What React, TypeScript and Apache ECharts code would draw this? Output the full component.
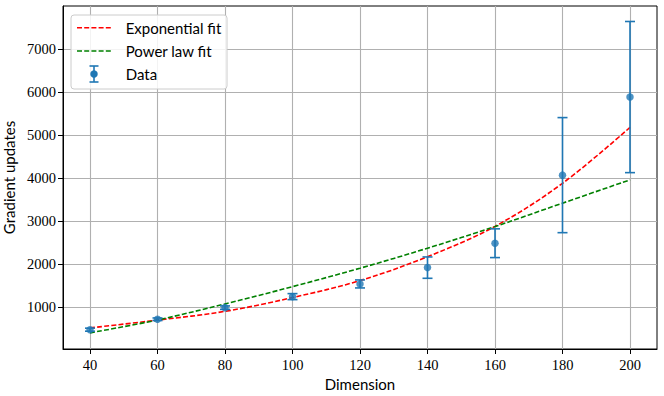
import React, { useEffect, useRef } from "react";
import * as echarts from "echarts";

const dims = [40, 60, 80, 100, 120, 140, 160, 180, 200];
const means = [479, 721, 991, 1247, 1542, 1921, 2488, 4070, 5884];
const errs = [35, 30, 40, 70, 93, 248, 334, 1337, 1756];
const expFit = [520, 700, 905, 1225, 1620, 2175, 2880, 3880, 5180];
const powFit = [405, 705, 1077, 1479, 1907, 2372, 2875, 3419, 3960];
const xTicks = [40, 60, 80, 100, 120, 140, 160, 180, 200];
const yTicks = [1000, 2000, 3000, 4000, 5000, 6000, 7000];

const BLUE = "#1f77b4";
const SERIF = "'Liberation Serif', 'DejaVu Serif', serif";
const SANS = "Lato, 'Noto Sans', sans-serif";

export default function App() {
  const ref = useRef<HTMLDivElement>(null);
  useEffect(() => {
    if (!ref.current) return;
    const chart = echarts.init(ref.current, null, { renderer: "svg" });
    const errData = dims.map((d, i) => [d, means[i] - errs[i], means[i] + errs[i]]);
    const dash = [5, 2.2];
    const option: any = {
      animation: false,
      backgroundColor: "#ffffff",
      grid: {
        left: 63, right: 7, top: 6, bottom: 47, containLabel: false, outerBoundsMode: "none",
        show: true, borderColor: "#000", borderWidth: 1, backgroundColor: "transparent",
      },
      xAxis: {
        type: "value",
        min: 32,
        max: 208,
        name: "Dimension",
        nameLocation: "middle",
        nameGap: 22,
        nameTextStyle: { fontFamily: SANS, fontSize: 15, color: "#000" },
        axisLine: { show: true, onZero: false, lineStyle: { color: "#000", width: 1 } },
        axisTick: { show: true, inside: false, length: 5, customValues: xTicks, lineStyle: { color: "#000", width: 1 } },
        axisLabel: { customValues: xTicks, margin: 8, fontFamily: SERIF, fontSize: 14.5, color: "#000", formatter: (v: number) => String(v) },
        splitLine: { show: true, lineStyle: { color: "#b0b0b0", width: 1.1 } },
      },
      yAxis: {
        type: "value",
        min: 30,
        max: 8000,
        name: "Gradient updates",
        nameLocation: "middle",
        nameGap: 33,
        nameTextStyle: { fontFamily: SANS, fontSize: 15, color: "#000" },
        axisLine: { show: true, onZero: false, lineStyle: { color: "#000", width: 1 } },
        axisTick: { show: true, inside: false, length: 5, customValues: yTicks, lineStyle: { color: "#000", width: 1 } },
        axisLabel: { customValues: yTicks, margin: 7, fontFamily: SERIF, fontSize: 14.5, color: "#000", formatter: (v: number) => String(v) },
        splitLine: { show: true, lineStyle: { color: "#b0b0b0", width: 1.1 } },
      },
      series: [
        {
          name: "Exponential fit",
          type: "line",
          data: dims.map((d, i) => [d, expFit[i]]),
          smooth: 0.35,
          symbol: "none",
          lineStyle: { color: "#ff0000", width: 1.6, type: dash },
          z: 3,
        },
        {
          name: "Power law fit",
          type: "line",
          data: dims.map((d, i) => [d, powFit[i]]),
          smooth: 0.35,
          symbol: "none",
          lineStyle: { color: "#008000", width: 1.6, type: dash },
          z: 4,
        },
        {
          name: "Data errors",
          type: "custom",
          data: errData,
          encode: { x: 0, y: [1, 2] },
          z: 5,
          renderItem: (params: any, api: any) => {
            const x = api.value(0);
            const lo = api.coord([x, api.value(1)]);
            const hi = api.coord([x, api.value(2)]);
            const hw = 5;
            const st = { stroke: BLUE, lineWidth: 1.6 };
            return {
              type: "group",
              children: [
                { type: "line", shape: { x1: lo[0], y1: lo[1], x2: hi[0], y2: hi[1] }, style: st },
                { type: "line", shape: { x1: lo[0] - hw, y1: lo[1], x2: lo[0] + hw, y2: lo[1] }, style: st },
                { type: "line", shape: { x1: hi[0] - hw, y1: hi[1], x2: hi[0] + hw, y2: hi[1] }, style: st },
              ],
            };
          },
        },
        {
          name: "Data",
          type: "scatter",
          data: dims.map((d, i) => [d, means[i]]),
          symbol: "circle",
          symbolSize: 7.5,
          itemStyle: { color: BLUE },
          z: 6,
        },
      ],
      graphic: [
        {
          type: "group",
          x: 71,
          y: 15,
          z: 100,
          children: [
            {
              type: "rect",
              z: 100,
              shape: { x: 0, y: 0, width: 156, height: 74, r: 3 },
              style: { fill: "rgba(255,255,255,0.85)", stroke: "#cccccc", lineWidth: 1 },
            },
            { type: "line", z: 101, shape: { x1: 6, y1: 12.7, x2: 40, y2: 12.7 }, style: { stroke: "#ff0000", lineWidth: 1.6, lineDash: dash } },
            { type: "line", z: 101, shape: { x1: 6, y1: 36, x2: 40, y2: 36 }, style: { stroke: "#008000", lineWidth: 1.6, lineDash: dash } },
            { type: "line", z: 101, shape: { x1: 23, y1: 51, x2: 23, y2: 67 }, style: { stroke: BLUE, lineWidth: 1.6 } },
            { type: "line", z: 101, shape: { x1: 18.5, y1: 51, x2: 27.5, y2: 51 }, style: { stroke: BLUE, lineWidth: 1.6 } },
            { type: "line", z: 101, shape: { x1: 18.5, y1: 67, x2: 27.5, y2: 67 }, style: { stroke: BLUE, lineWidth: 1.6 } },
            { type: "circle", z: 101, shape: { cx: 23, cy: 59, r: 3.75 }, style: { fill: BLUE } },
            { type: "text", z: 101, x: 54.7, y: 12.7, style: { text: "Exponential fit", fontFamily: SANS, fontSize: 15, fill: "#000", verticalAlign: "middle" } },
            { type: "text", z: 101, x: 54.7, y: 36, style: { text: "Power law fit", fontFamily: SANS, fontSize: 15, fill: "#000", verticalAlign: "middle" } },
            { type: "text", z: 101, x: 54.7, y: 59, style: { text: "Data", fontFamily: SANS, fontSize: 15, fill: "#000", verticalAlign: "middle" } },
          ],
        },
      ],
    };
    chart.setOption(option);
    return () => chart.dispose();
  }, []);
  return (
    <div
      ref={ref}
      style={{ position: "fixed", left: 0, top: 0, width: 664, height: 396, background: "#fff" }}
    />
  );
}
